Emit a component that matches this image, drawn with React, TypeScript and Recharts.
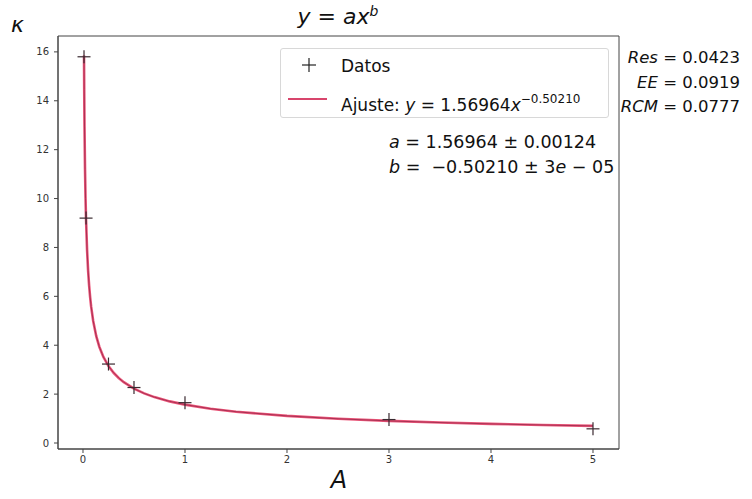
import React from 'react';
import { ScatterChart, Scatter, XAxis, YAxis, ReferenceArea } from 'recharts';

// Measured data points (Datos)
const dataX = [0.01, 0.03, 0.25, 0.5, 1, 3, 5];
const dataY = [15.8, 9.2, 3.23, 2.27, 1.65, 0.96, 0.58];

// Fitted curve (Ajuste) sampled points
const fitX = [0.01, 0.012, 0.015, 0.02, 0.025, 0.03, 0.04, 0.05, 0.06, 0.07, 0.08, 0.1, 0.13, 0.16, 0.2, 0.25, 0.3, 0.35, 0.4, 0.5, 0.6, 0.7, 0.85, 1, 1.25, 1.5, 2, 2.5, 3, 3.5, 4, 4.5, 5];
const fitY = [15.85, 14.46, 12.93, 11.19, 10.0, 9.13, 7.9, 7.06, 6.446, 5.97, 5.579, 4.99, 4.372, 3.939, 3.52, 3.148, 2.873, 2.659, 2.487, 2.223, 2.029, 1.877, 1.703, 1.57, 1.403, 1.2805, 1.1083, 0.9908, 0.9041, 0.8368, 0.7825, 0.7376, 0.6996];

const xTicks = [0, 1, 2, 3, 4, 5];
const yTicks = [0, 2, 4, 6, 8, 10, 12, 14, 16];

const xDomain: [number, number] = [-0.245, 5.255];
const yDomain: [number, number] = [-0.245, 16.65];

const points = dataX.map((x, i) => ({ x, y: dataY[i] }));
const fit = fitX.map((x, i) => ({ x, y: fitY[i] }));

const FONT = '"DejaVu Sans", Verdana, sans-serif';
const FIT_COLOR = '#ec5679';
const FIT_CORE = '#8e2244';

const Plus = (props: any) => {
  const { cx, cy } = props;
  if (cx == null || cy == null) return <g />;
  const r = 6.5;
  return (
    <g>
      <line x1={cx - r} y1={cy} x2={cx + r} y2={cy} stroke="#3a2a30" strokeWidth={1.2} />
      <line x1={cx} y1={cy - r} x2={cx} y2={cy + r} stroke="#3a2a30" strokeWidth={1.2} />
    </g>
  );
};

const NoShape = () => <g />;

const abs = (s: React.CSSProperties): React.CSSProperties => ({
  position: 'absolute',
  whiteSpace: 'pre',
  fontFamily: FONT,
  color: '#111',
  ...s,
});

export default function App() {
  return (
    <div style={{ position: 'absolute', left: 0, top: 0, width: 752, height: 499, background: '#fff' }}>
      <ScatterChart
        width={752}
        height={499}
        margin={{ top: 36, right: 133, bottom: 20, left: 0 }}
      >
        <XAxis
          dataKey="x"
          type="number"
          domain={xDomain}
          ticks={xTicks}
          allowDataOverflow
          height={30}
          tickSize={4}
          tickMargin={3}
          stroke="#444"
          tick={{ fontSize: 10, fill: '#333', fontFamily: FONT }}
        />
        <YAxis
          dataKey="y"
          type="number"
          domain={yDomain}
          ticks={yTicks}
          allowDataOverflow
          width={58}
          tickSize={4}
          tickMargin={5}
          stroke="#444"
          tick={{ fontSize: 10, fill: '#333', fontFamily: FONT }}
        />
        <ReferenceArea
          x1={xDomain[0]}
          x2={xDomain[1]}
          y1={yDomain[0]}
          y2={yDomain[1]}
          fill="none"
          stroke="#444"
          strokeWidth={1}
          fillOpacity={0}
        />
        <Scatter
          data={fit}
          line={{ stroke: FIT_COLOR, strokeWidth: 2.6 }}
          shape={NoShape}
          isAnimationActive={false}
        />
        <Scatter
          data={fit}
          line={{ stroke: FIT_CORE, strokeWidth: 0.9, strokeOpacity: 0.8 }}
          shape={NoShape}
          isAnimationActive={false}
        />
        <Scatter
          data={points}
          shape={Plus}
          isAnimationActive={false}
        />
      </ScatterChart>

      {/* Title */}
      <div style={abs({ left: 338, top: 3, transform: 'translateX(-50%)', fontSize: 22 })}>
        <i>y</i> = <i>ax</i><sup style={{ fontSize: 14, verticalAlign: '0.55em' }}><i>b</i></sup>
      </div>

      {/* Y label */}
      <div style={abs({ left: 11, top: 12, fontSize: 22 })}>
        <i>κ</i>
      </div>

      {/* X label */}
      <div style={abs({ left: 339, top: 466, transform: 'translateX(-50%)', fontSize: 24 })}>
        <i>A</i>
      </div>

      {/* Legend */}
      <div
        style={{
          position: 'absolute',
          left: 280,
          top: 48,
          width: 329,
          height: 70,
          border: '1px solid #d8d8d8',
          borderRadius: 3,
          background: 'rgba(255,255,255,0.85)',
          boxSizing: 'border-box',
        }}
      >
        <svg width={60} height={70} style={{ position: 'absolute', left: 0, top: 0 }}>
          <line x1={21} y1={16} x2={35} y2={16} stroke="#222" strokeWidth={1.2} />
          <line x1={28} y1={9} x2={28} y2={23} stroke="#222" strokeWidth={1.2} />
          <line x1={7} y1={50} x2={46} y2={50} stroke="#d8456c" strokeWidth={2} />
        </svg>
        <div style={abs({ left: 60, top: 5, fontSize: 17, lineHeight: '24px' })}>Datos</div>
        <div style={abs({ left: 60, top: 38, fontSize: 17, lineHeight: '24px' })}>
          Ajuste: <i>y</i> = 1.56964<i>x</i>
          <sup style={{ fontSize: 12, verticalAlign: '0.7em' }}>−0.50210</sup>
        </div>
      </div>

      {/* Fit parameters */}
      <div style={abs({ left: 389, top: 130, fontSize: 17.5, lineHeight: '25px' })}>
        <div><i>a</i> = 1.56964 ± 0.00124</div>
        <div><i>b</i> =  −0.50210 ± 3<i>e</i> − 05</div>
      </div>

      {/* Statistics */}
      <div style={abs({ right: 12, top: 46, fontSize: 16.5, lineHeight: '24.5px', textAlign: 'right' })}>
        <div><i>Res</i> = 0.0423</div>
        <div><i>EE</i> = 0.0919</div>
        <div><i>RCM</i> = 0.0777</div>
      </div>
    </div>
  );
}
